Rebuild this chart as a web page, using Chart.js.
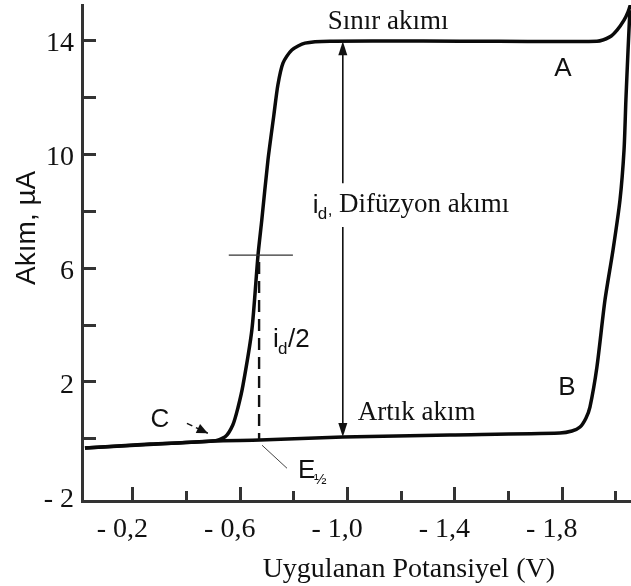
<!DOCTYPE html>
<html><head><meta charset="utf-8">
<script src="https://cdn.jsdelivr.net/npm/chart.js@4/dist/chart.umd.min.js"></script>
<style>html,body{margin:0;padding:0;background:#fff}#c{display:block}</style>
</head><body>
<canvas id="c" width="631" height="586"></canvas>
<script>
// ---- data (potential in V, current in µA) ----
const waveV = [-0.023,-0.265,-0.50,-0.545,-0.574,-0.593,-0.612,-0.645,-0.668,-0.682,-0.705,-0.727,-0.742,-0.761,-0.794,-0.843,-0.936,-1.42,-1.931,-1.979,-2.006,-2.032,-2.047,-2.058];
const waveI = [-0.34,-0.20,-0.09,0.05,0.47,1.07,1.87,3.81,6.44,7.67,9.78,11.36,12.42,13.19,13.65,13.89,13.96,13.96,13.96,14.11,14.35,14.70,14.99,15.30];
const residualV = [-0.023,-0.50,-0.675,-0.984,-1.383,-1.793,-1.838,-1.868,-1.890,-1.905,-1.931,-1.961,-1.991,-2.017,-2.032,-2.039,-2.047,-2.054];
const residualI = [-0.34,-0.09,-0.06,0.05,0.12,0.19,0.26,0.40,0.71,1.10,2.51,4.86,6.62,8.38,10.13,11.89,13.65,15.05];

const xTickValues = [-0.2,-0.4,-0.6,-0.8,-1.0,-1.2,-1.4,-1.6,-1.8,-2.0];
const xTickLabels = ['- 0,2','','- 0,6','','- 1,0','','- 1,4','','- 1,8',''];
const yTickValues = [-2,0,2,4,6,8,10,12,14];
const yTickLabels = ['- 2','','2','','6','','10','','14'];

// annotation anchors (data coordinates)
const diffArrow = {x:-0.984, y0:0.05, y1:13.96, gapLo:7.43, gapHi:8.97};
const halfLine = {x0:-0.559, x1:-0.798, y:6.44};
const halfDash = {x:-0.672, y0:6.2, y1:-0.06};
const eLeader = {x0:-0.683, y0:-0.24, x1:-0.776, y1:-1.05};
const cArrow = {x0:-0.403, y0:0.53, x1:-0.481, y1:0.18};

const SERIF = '"Liberation Serif", "Times New Roman", serif';
const SANS = '"Liberation Sans", Arial, sans-serif';

const toPts = (xs, ys) => xs.map((x,i)=>({x, y: ys[i]}));

function arrowHead(ctx, x0, y0, x1, y1, len, half){
  const a = Math.atan2(y1-y0, x1-x0);
  ctx.beginPath();
  ctx.moveTo(x1, y1);
  ctx.lineTo(x1 - len*Math.cos(a) + half*Math.sin(a), y1 - len*Math.sin(a) - half*Math.cos(a));
  ctx.lineTo(x1 - len*Math.cos(a) - half*Math.sin(a), y1 - len*Math.sin(a) + half*Math.cos(a));
  ctx.closePath();
  ctx.fill();
}

function zeroPad(s){ s.paddingTop = 0; s.paddingBottom = 0; s.paddingLeft = 0; s.paddingRight = 0; }

const decor = {
  id: 'decor',
  afterDatasetsDraw(chart){
    const ctx = chart.ctx, xs = chart.scales.x, ys = chart.scales.y;
    const X = v => xs.getPixelForValue(v), Y = v => ys.getPixelForValue(v);
    const area = chart.chartArea;
    ctx.save();
    // inward ticks
    ctx.strokeStyle = '#333'; ctx.lineWidth = 3; ctx.lineCap = 'butt';
    xTickValues.forEach((v,i)=>{
      const len = xTickLabels[i] ? 14 : 10;
      const px = Math.round(X(v)) + 0.5;
      ctx.beginPath(); ctx.moveTo(px, area.bottom); ctx.lineTo(px, area.bottom - len); ctx.stroke();
    });
    yTickValues.forEach((v,i)=>{
      if (v === yTickValues[0]) return;
      const py = Math.round(Y(v)) + 0.5;
      ctx.beginPath(); ctx.moveTo(area.left, py); ctx.lineTo(area.left + 14, py); ctx.stroke();
    });

    ctx.strokeStyle = '#111'; ctx.fillStyle = '#111';
    // diffusion current double arrow
    ctx.lineWidth = 1.6;
    const ax = X(diffArrow.x);
    ctx.beginPath();
    ctx.moveTo(ax, Y(diffArrow.y0) - 12); ctx.lineTo(ax, Y(diffArrow.gapLo));
    ctx.moveTo(ax, Y(diffArrow.gapHi)); ctx.lineTo(ax, Y(diffArrow.y1) + 12);
    ctx.stroke();
    arrowHead(ctx, ax, Y(diffArrow.y0) - 20, ax, Y(diffArrow.y0), 14, 4.5);
    arrowHead(ctx, ax, Y(diffArrow.y1) + 20, ax, Y(diffArrow.y1), 14, 4.5);

    // half-wave horizontal line
    ctx.lineWidth = 1.2; ctx.strokeStyle = '#333';
    ctx.beginPath(); ctx.moveTo(X(halfLine.x0), Y(halfLine.y)); ctx.lineTo(X(halfLine.x1), Y(halfLine.y)); ctx.stroke();
    // dashed vertical
    ctx.strokeStyle = '#111'; ctx.lineWidth = 2.4; ctx.setLineDash([12,7]);
    ctx.beginPath(); ctx.moveTo(X(halfDash.x), Y(halfDash.y0)); ctx.lineTo(X(halfDash.x), Y(halfDash.y1)); ctx.stroke();
    ctx.setLineDash([]);
    // E1/2 leader
    ctx.lineWidth = 1; ctx.strokeStyle = '#444';
    ctx.beginPath(); ctx.moveTo(X(eLeader.x0), Y(eLeader.y0)); ctx.lineTo(X(eLeader.x1), Y(eLeader.y1)); ctx.stroke();
    // C arrow
    ctx.strokeStyle = '#111'; ctx.lineWidth = 1.5; ctx.setLineDash([6,4]);
    ctx.beginPath(); ctx.moveTo(X(cArrow.x0), Y(cArrow.y0)); ctx.lineTo(X(cArrow.x1), Y(cArrow.y1)); ctx.stroke();
    ctx.setLineDash([]);
    arrowHead(ctx, X(cArrow.x0), Y(cArrow.y0), X(cArrow.x1), Y(cArrow.y1), 11, 5);

    // texts
    ctx.fillStyle = '#111';
    ctx.textBaseline = 'middle'; ctx.textAlign = 'left';
    ctx.font = '27px ' + SERIF;
    ctx.fillText('Sınır akımı', X(-0.928), Y(14.63));
    ctx.fillText('Artık akım', X(-1.04), Y(0.89));
    ctx.fillText('Difüzyon akımı', X(-0.97), Y(8.19));
    // i_d,
    ctx.font = '26px ' + SANS;
    let ix = X(-0.872), iy = Y(8.19);
    ctx.fillText('i', ix, iy);
    ctx.font = '17px ' + SANS;
    ctx.fillText('d', ix + 5, iy + 9);
    ctx.fillText(',', ix + 15, iy + 5);
    // i_d/2
    ctx.font = '26px ' + SANS;
    ix = X(-0.724); iy = Y(3.45);
    ctx.fillText('i', ix, iy);
    ctx.font = '17px ' + SANS;
    ctx.fillText('d', ix + 5, iy + 9);
    ctx.font = '26px ' + SANS;
    ctx.fillText('/2', ix + 15, iy);
    // E1/2
    ctx.font = '26px ' + SANS;
    ix = X(-0.817); iy = Y(-1.15);
    ctx.fillText('E', ix, iy);
    ctx.font = '15px ' + SANS;
    ctx.fillText('½', ix + 16, iy + 9);
    // A, B, C
    ctx.font = '26px ' + SANS; ctx.textAlign = 'center';
    ctx.fillText('A', X(-1.804), Y(12.98));
    ctx.fillText('B', X(-1.819), Y(1.77));
    ctx.fillText('C', X(-0.302), Y(0.67));

    // axis titles
    ctx.font = '28px ' + SERIF;
    ctx.fillText('Uygulanan Potansiyel (V)', X(-1.23), 570);
    ctx.save();
    ctx.translate(27, Y(7.4));
    ctx.rotate(-Math.PI/2);
    ctx.font = '28px ' + SANS;
    ctx.fillText('Akım, µA', 0, 0);
    ctx.restore();
    ctx.restore();
  }
};

new Chart(document.getElementById('c'), {
  type: 'scatter',
  data: {
    datasets: [
      {data: toPts(waveV, waveI), showLine: true, borderColor: '#0a0a0a', borderWidth: 3.5, pointRadius: 0, tension: 0.25},
      {data: toPts(residualV, residualI), showLine: true, borderColor: '#0a0a0a', borderWidth: 3.5, pointRadius: 0, tension: 0.25}
    ]
  },
  options: {
    responsive: false, animation: false, devicePixelRatio: 1,
    layout: {padding: {top: 5, right: 0, left: 0, bottom: 0}},
    plugins: {legend: {display: false}, tooltip: {enabled: false}},
    scales: {
      x: {
        type: 'linear', reverse: true, min: -2.058, max: -0.012,
        grid: {display: false, drawTicks: false},
        border: {display: true, width: 3, color: '#333'},
        afterBuildTicks: s => { s.ticks = xTickValues.map(v => ({value: v})); },
        afterFit: s => { s.height = 85; zeroPad(s); },
        ticks: {
          autoSkip: false, maxRotation: 0, minRotation: 0, padding: 12, labelOffset: -10,
          color: '#111', font: {family: SERIF, size: 28},
          callback: v => { const i = xTickValues.findIndex(t => Math.abs(t - v) < 1e-6); return i >= 0 ? xTickLabels[i] : ''; }
        }
      },
      y: {
        type: 'linear', min: -2.2, max: 15.23,
        grid: {display: false, drawTicks: false},
        border: {display: true, width: 3, color: '#333'},
        afterBuildTicks: s => { s.ticks = yTickValues.map(v => ({value: v})); },
        afterFit: s => { s.width = 82; zeroPad(s); },
        ticks: {
          autoSkip: false, padding: 8, labelOffset: 4,
          color: '#111', font: {family: SERIF, size: 28},
          callback: v => { const i = yTickValues.findIndex(t => Math.abs(t - v) < 1e-6); return i >= 0 ? yTickLabels[i] : ''; }
        }
      }
    }
  },
  plugins: [decor]
});
</script>
</body></html>
